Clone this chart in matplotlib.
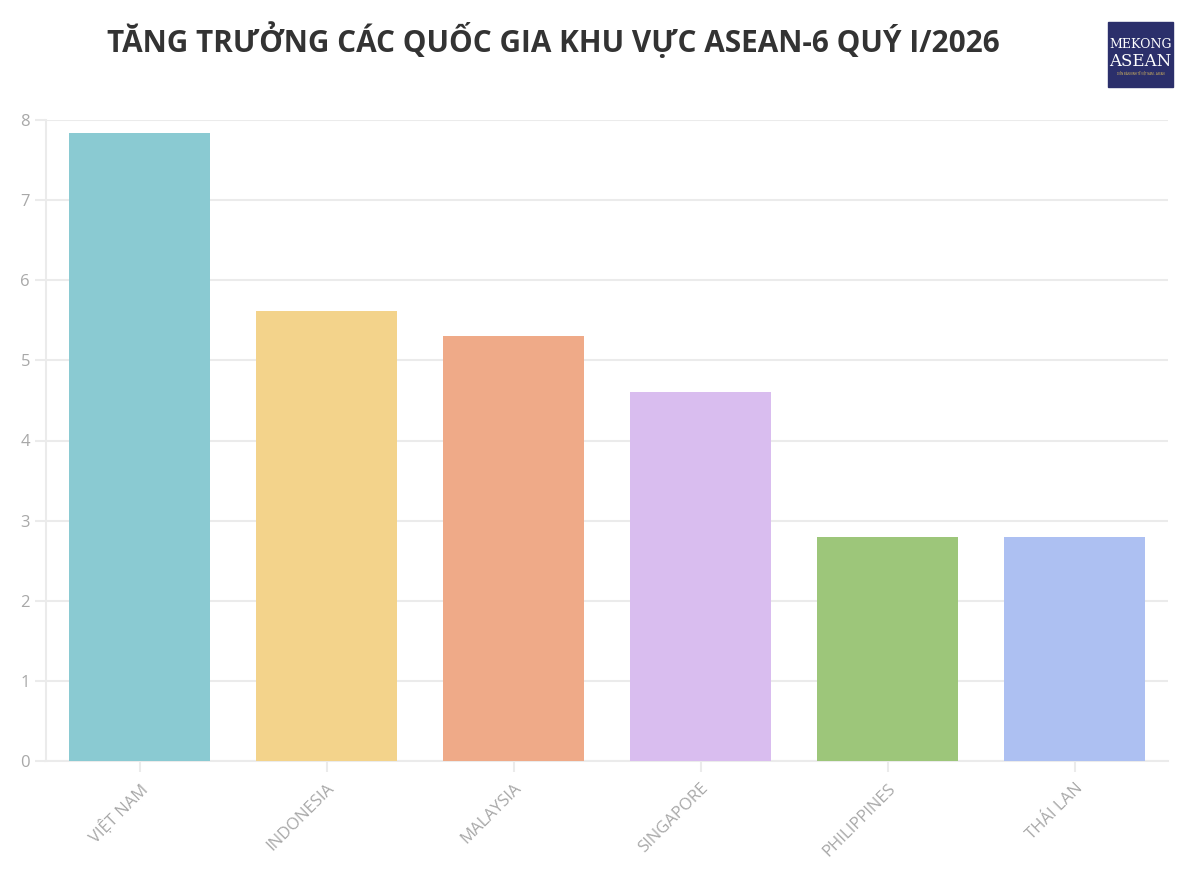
'''
ASEAN-6 growth, Q1/2026
'''
import matplotlib
matplotlib.use('Agg')
import matplotlib.pyplot as plt
from matplotlib.patches import Rectangle

countries = ['VIỆT NAM', 'INDONESIA', 'MALAYSIA', 'SINGAPORE', 'PHILIPPINES', 'THÁI LAN']
growth = [7.84, 5.61, 5.30, 4.60, 2.80, 2.80]
colors = ['#8ACAD2', '#F3D38B', '#EFAA88', '#D9BDEF', '#9DC67A', '#ADC0F2']
yticks = [0, 1, 2, 3, 4, 5, 6, 7, 8]

plt.rcParams['font.family'] = ['Open Sans', 'DejaVu Sans']

fig = plt.figure(figsize=(12, 8.76), dpi=100)
ax = fig.add_axes([46 / 1200, 1 - 761 / 876, 1122 / 1200, 641 / 876])

x = range(len(countries))
ax.bar(x, growth, width=0.75, color=colors, zorder=3)

ax.set_xlim(-0.5, len(countries) - 0.5)
ax.set_ylim(0, 8)
ax.set_yticks(yticks)
ax.set_xticks(list(x))
ax.set_xticklabels(countries, rotation=45, ha='right', rotation_mode='anchor')

ax.grid(axis='y', color='#ebebeb', lw=1.5, zorder=0)
for side in ['top', 'right']:
    ax.spines[side].set_visible(False)
for side in ['left', 'bottom']:
    ax.spines[side].set_color('#ebebeb')
    ax.spines[side].set_linewidth(1.5)
ax.tick_params(colors='#ebebeb', labelcolor='#a8a8a8', labelsize=12, width=1.5, length=8)
ax.tick_params(axis='x', pad=6)

fig.text(0.461, 0.954, 'TĂNG TRƯỞNG CÁC QUỐC GIA KHU VỰC ASEAN-6 QUÝ I/2026',
         ha='center', va='center', fontsize=21.4, fontweight='bold', color='#333333')

# logo
fig.patches.append(Rectangle((1108 / 1200, 1 - 87 / 876), 65 / 1200, 65 / 876,
                             transform=fig.transFigure, color='#2B2F6B', zorder=5))
fig.text(1140.5 / 1200, 1 - 45 / 876, 'MEKONG', ha='center', va='center', fontsize=9,
         family='DejaVu Serif', color='white', zorder=6)
fig.text(1140.5 / 1200, 1 - 62 / 876, 'ASEAN', ha='center', va='center', fontsize=12,
         family='DejaVu Serif', color='white', zorder=6)
fig.text(1140.5 / 1200, 1 - 74 / 876, 'DIỄN ĐÀN KINH TẾ VIỆT NAM - ASEAN', ha='center',
         va='center', fontsize=2, color='#E8C55A', zorder=6)

fig.savefig('out.png', dpi=100, facecolor='white')
